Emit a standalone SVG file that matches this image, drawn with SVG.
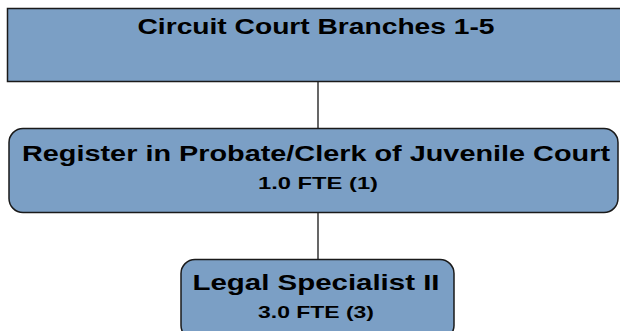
<svg xmlns="http://www.w3.org/2000/svg" width="620" height="331" viewBox="0 0 620 331">
<style>
.box{fill:#7b9fc5;stroke:#1a1a1a;stroke-width:1.5}
.t{font-family:"Liberation Sans",Arial,sans-serif;font-weight:bold;fill:#000;text-anchor:middle}
.c{stroke:#000;stroke-width:1.2;fill:none}
</style>
<rect width="620" height="331" fill="#fff"/>
<g id="connectors">
<line class="c" x1="318" y1="81" x2="318" y2="129"/>
<line class="c" x1="318" y1="212" x2="318" y2="260"/>
</g>
<g id="n1">
<rect class="box" x="7.5" y="8.5" width="620" height="73"/>
<text class="t" x="316" y="34" font-size="22" textLength="357" lengthAdjust="spacingAndGlyphs">Circuit Court Branches 1-5</text>
</g>
<g id="n2">
<rect class="box" x="9" y="128.5" width="609" height="84" rx="14"/>
<text class="t" x="316" y="161" font-size="22" textLength="588" lengthAdjust="spacingAndGlyphs">Register in Probate/Clerk of Juvenile Court</text>
<text class="t" x="318" y="189" font-size="17" textLength="120" lengthAdjust="spacingAndGlyphs">1.0 FTE (1)</text>
</g>
<g id="n3">
<rect class="box" x="181" y="259.5" width="273" height="80" rx="14"/>
<text class="t" x="316" y="290" font-size="22" textLength="247" lengthAdjust="spacingAndGlyphs">Legal Specialist II</text>
<text class="t" x="316" y="318" font-size="17" textLength="116" lengthAdjust="spacingAndGlyphs">3.0 FTE (3)</text>
</g>
</svg>
